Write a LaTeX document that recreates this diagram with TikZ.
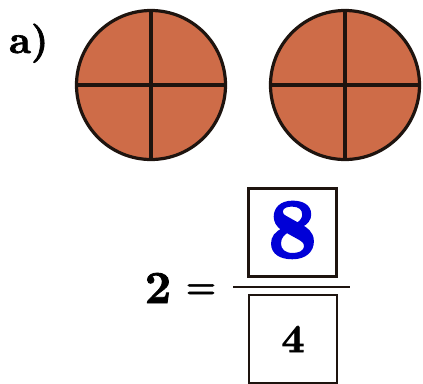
\documentclass[tikz,border=0pt]{standalone}
\usepackage{fontspec}
\usepackage{tikz}
\usetikzlibrary{positioning}
\newfontfamily\heavyserif{lmroman10-bold.otf}[FakeBold=1.8]
\newfontfamily\heavierserif{lmroman10-bold.otf}[FakeBold=3.2]
\definecolor{pizzaorange}{RGB}{206, 108, 72}
\definecolor{answerblue}{RGB}{0, 0, 215}
\definecolor{inkdark}{RGB}{30, 20, 15}

\begin{document}
\begin{tikzpicture}[
    x=1pt, y=-1pt,
    disc/.style={circle, draw=inkdark, line width=3.2pt, fill=pizzaorange, minimum size=149pt, inner sep=0pt},
    cut/.style={inkdark, line width=3.2pt},
    answerbox/.style={draw=inkdark, line width=2.8pt, minimum width=88pt, minimum height=88pt, inner sep=0pt},
    bigdigit/.style={font=\fontsize{#1}{#1}\selectfont\heavyserif}
]
\useasboundingbox (0,0) rectangle (423,383);

% Part label
\node[bigdigit=39, anchor=base west, inner sep=0pt] (partlabel) at (9,53) {a)};

% Two discs, each cut into quarters
\node[disc] (leftdisc) at (151,85) {};
\node[disc] (rightdisc) at (345,85) {};
\foreach \d in {leftdisc, rightdisc} {
    \draw[cut] (\d.north) -- (\d.south);
    \draw[cut] (\d.west) -- (\d.east);
}

% Equation 2 = 8/4
\node[bigdigit=46] (whole) at (158,288) {2};
\node[bigdigit=34] (equals) at (201,291) {=};
\node[answerbox, text=answerblue, font=\fontsize{84}{84}\selectfont\heavierserif] (numer) at (292.5,232.5) {\raisebox{6pt}{8}};
\node[answerbox, bigdigit=40, minimum height=88pt] (denom) at (293,339) {\raisebox{-7pt}{4}};
\coordinate (barleft) at (233,287);
\coordinate (barright) at (350,287);
\draw[inkdark, line width=2.6pt] (barleft) -- (barright);

\end{tikzpicture}
\end{document}
